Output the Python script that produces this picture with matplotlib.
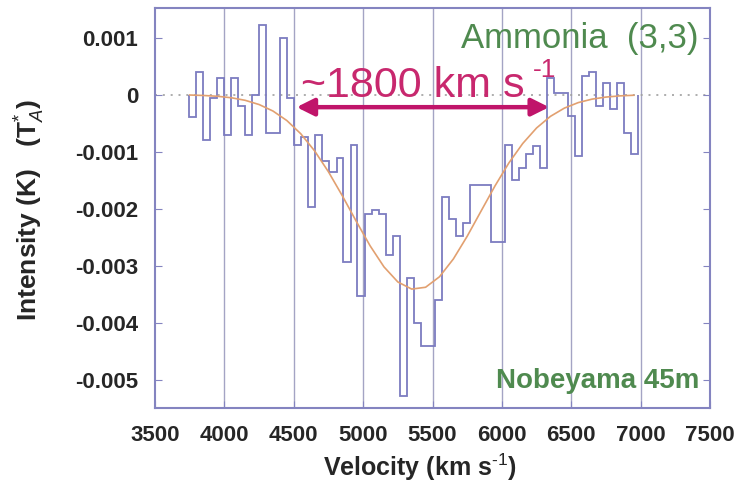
import matplotlib
matplotlib.use("Agg")
import matplotlib.pyplot as plt
import numpy as np

plt.rcParams['font.family'] = ['Liberation Sans', 'DejaVu Sans']
plt.rcParams['mathtext.fontset'] = 'custom'
plt.rcParams['mathtext.rm'] = 'Liberation Sans'
plt.rcParams['mathtext.it'] = 'Liberation Sans:italic'
plt.rcParams['mathtext.bf'] = 'Liberation Sans:bold'

# channel left edges (km/s) and spectrum values (mK)
channel_edges = [3745, 3796, 3846, 3897, 3947, 3998, 4049, 4099, 4150, 4200,
                 4251, 4302, 4352, 4403, 4453, 4504, 4555, 4605, 4656, 4706,
                 4757, 4808, 4858, 4909, 4959, 5010, 5061, 5111, 5162, 5212,
                 5263, 5314, 5364, 5415, 5465, 5516, 5567, 5617, 5668, 5718,
                 5769, 5820, 5870, 5921, 5971, 6022, 6073, 6123, 6174, 6224,
                 6275, 6326, 6376, 6427, 6477, 6528, 6579, 6629, 6680, 6730,
                 6781, 6832, 6882, 6933, 6983]
spectrum_mK = [-0.40, 0.40, -0.80, -0.06, 0.30, -0.70, 0.30, -0.20, -0.70, 0.00,
               1.22, -0.67, -0.67, 1.00, -0.06, -0.88, -0.75, -1.98, -0.70, -1.17,
               -1.35, -1.11, -2.93, -0.88, -3.54, -2.10, -2.02, -2.10, -2.81, -2.49,
               -5.29, -3.22, -4.00, -4.42, -4.42, -3.60, -1.79, -2.19, -2.49, -2.25,
               -1.58, -1.58, -1.58, -2.58, -2.58, -0.88, -1.49, -1.29, -1.05, -0.90,
               -1.29, 0.30, 0.03, 0.03, -0.38, -1.08, 0.32, 0.40, -0.20, 0.20,
               -0.25, 0.20, -0.67, -1.05]

# fitted curve (km/s, mK)
fit_v = [3750, 3850, 3950, 4050, 4150, 4250, 4350, 4450, 4550, 4650, 4750,
         4850, 4950, 5050, 5150, 5250, 5350, 5450, 5550, 5650, 5750, 5850,
         5950, 6050, 6150, 6250, 6350, 6450, 6550, 6650, 6750, 6850, 6950]
fit_mK = [-0.007, -0.015, -0.029, -0.055, -0.100, -0.174, -0.288, -0.455, -0.686,
          -0.987, -1.355, -1.776, -2.222, -2.653, -3.023, -3.288, -3.413, -3.381,
          -3.197, -2.885, -2.485, -2.043, -1.603, -1.200, -0.858, -0.585, -0.381,
          -0.237, -0.140, -0.079, -0.043, -0.022, -0.011]

x_ticks = [3500, 4000, 4500, 5000, 5500, 6000, 6500, 7000, 7500]
y_ticks = [0.001, 0, -0.001, -0.002, -0.003, -0.004, -0.005]
y_ticklabels = ['0.001', '0', '-0.001', '-0.002', '-0.003', '-0.004', '-0.005']

arrow_from, arrow_to, arrow_level = 4520, 6340, -0.00022

fig = plt.figure(figsize=(7.4, 4.86), dpi=100)
ax = fig.add_axes([0.2095, 0.1605, 0.75, 0.823])

frame_col = '#8484c0'
grid_col = '#a4a4c4'
line_col = '#7c7cc0'
text_col = '#262626'

ax.set_xlim(3500, 7500)
ax.set_ylim(-0.0055, 0.00152)

for xv in x_ticks[1:-1]:
    ax.axvline(xv, color=grid_col, lw=1.0, zorder=1)
ax.axhline(0, color='#a0a0a0', lw=1.2, ls=(0, (1.2, 3.5)), zorder=1)

vals = np.array(spectrum_mK) * 1e-3
ax.stairs(vals, channel_edges, color=line_col, lw=1.3, zorder=3)

ax.plot(fit_v, np.array(fit_mK) * 1e-3, color='#e2a070', lw=1.2, zorder=4)

ax.annotate('', xy=(arrow_from, arrow_level), xytext=(arrow_to, arrow_level),
            arrowprops=dict(arrowstyle='<|-|>', color='#c0146a', lw=3.2,
                            mutation_scale=26, shrinkA=0, shrinkB=0), zorder=5)
ax.text(4550, -0.00005, '~1800 km s', color='#c8286e', fontsize=31,
        ha='left', va='baseline', zorder=6)
ax.text(6220, 0.00031, '-1', color='#c8286e', fontsize=19,
        ha='left', va='baseline', zorder=6)

ax.text(7420, 0.00098, 'Ammonia  (3,3)', color='#4f8a4f', fontsize=25,
        ha='right', va='center', zorder=6)
ax.text(7420, -0.00502, 'Nobeyama 45m', color='#4f8a4f', fontsize=20,
        fontweight='bold', ha='right', va='center', zorder=6)

ax.set_xticks(x_ticks)
ax.set_xticklabels([str(t) for t in x_ticks])
ax.set_yticks(y_ticks)
ax.set_yticklabels(y_ticklabels)
ax.tick_params(axis='both', direction='in', color=frame_col, length=5,
               labelcolor=text_col, labelsize=16, right=True, top=False)
for lab in ax.get_xticklabels() + ax.get_yticklabels():
    lab.set_fontweight('bold')
ax.tick_params(axis='x', pad=12)
ax.tick_params(axis='y', pad=12)

for sp in ax.spines.values():
    sp.set_color(frame_col)
    sp.set_linewidth(1.5)

fig.text(420 / 740, 1 - 467 / 486, 'Velocity (km s$^{\\text{-}1}$)', fontsize=18,
         fontweight='bold', color=text_col, ha='center', va='center')
fig.text(30 / 740, 1 - 210 / 486, 'Intensity (K)   (T$_{A}^{*}$)', fontsize=19,
         fontweight='bold', color=text_col, ha='center', va='center', rotation=90)

fig.savefig('out.png', dpi=100)
